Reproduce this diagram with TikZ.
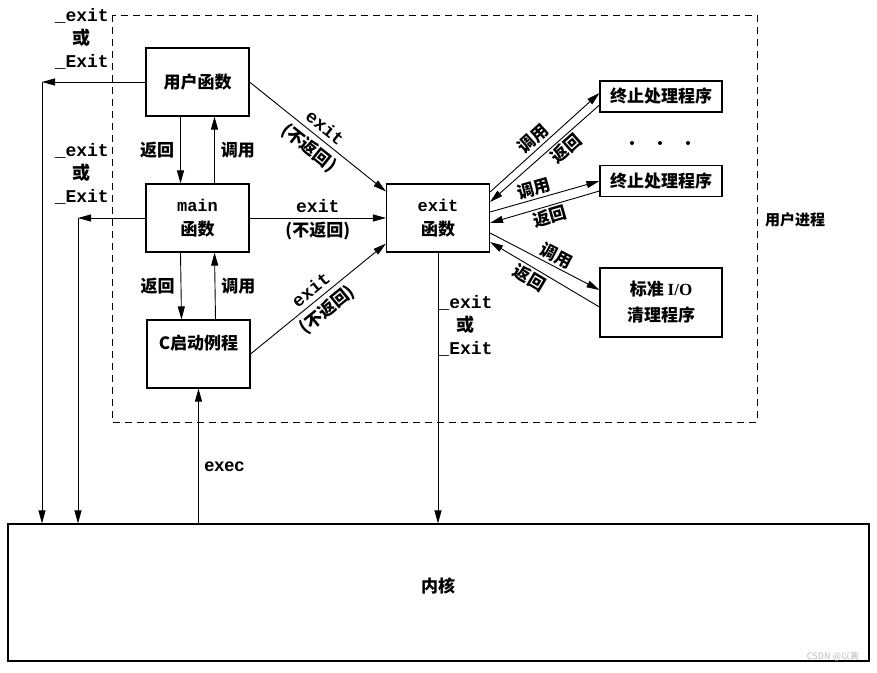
\documentclass[tikz,border=0pt]{standalone}
\usepackage{fontspec}
\usepackage{tikz}
\usetikzlibrary{arrows.meta}
\setmainfont{Noto Sans CJK SC}
\newfontfamily\monofont{Liberation Mono}
\newfontfamily\sansfont{Liberation Sans}
\newfontfamily\seriffont{Liberation Serif}
\tikzset{
  box/.style={draw, line width=1.1pt, minimum width=103pt, minimum height=68pt, align=center, inner sep=0pt, font=\fontsize{17}{24}\selectfont\bfseries},
  hbox/.style={box, minimum width=122pt, minimum height=31pt},
  lab/.style={font=\fontsize{17}{22}\selectfont\bfseries, inner sep=2pt},
  mlab/.style={font=\fontsize{18}{23}\selectfont\monofont\bfseries, align=center, inner sep=2pt},
  arr/.style={-{Triangle[length=13pt,width=7pt]}, line width=0.9pt},
  rarr/.style={{Triangle[length=13pt,width=7pt]}-, line width=0.9pt}
}
\newcommand{\mono}[1]{{\monofont #1}}

\begin{document}
\begin{tikzpicture}[x=1pt,y=-1pt]
\useasboundingbox (0,0) rectangle (877,672);
%\draw[-,color=black,dashed] (0,0) grid (877,672);
\draw[dash pattern=on 7pt off 5pt, line width=0.9pt] (112,15) rectangle (757,422);
\node[lab, font=\fontsize{15}{18}\selectfont\bfseries] (proc) at (795,220) {用户进程};
\node[box] (user) at (197.5,82) {用户函数};
\node[box] (main) at (197.5,218) {\mono{main}\\函数};
\node[box] (crt) at (198.5,354) {C启动例程\\\mbox{}};
\node[box] (exitf) at (438,218) {\mono{exit}\\函数};
\node[hbox] (term1) at (661,96.5) {终止处理程序};
\node[hbox] (term2) at (661,181) {终止处理程序};
\node[box, minimum width=122pt, minimum height=69pt, font=\fontsize{17}{26}\selectfont\bfseries] (stdio) at (661,302.5) {标准 {\seriffont I/O}\\清理程序};
\foreach \x in {632,660,688} \fill (\x,143) circle[radius=2pt];
\node[draw, line width=1.1pt, minimum width=861pt, minimum height=137pt] (kernel) at (438.5,592.5) {};
\node[lab] (kerneltxt) at (438,586) {内核};
%\node[lab] at (kernel.center) {内核};
\node[text=gray!55, font=\fontsize{9}{10}\selectfont] (mark) at (833,656) {CSDN @以离};
% _exit / _Exit to the kernel
\coordinate (turn1) at (42,82);
\coordinate (turn2) at (78,218);
\draw[arr] (user.west) -- (turn1);
\draw[arr] (turn1) -- (turn1 |- kernel.north);
\draw[arr] (main.west) -- (turn2);
\draw[arr] (turn2) -- (turn2 |- kernel.north);
\node[mlab, anchor=east] (ex1) at (111,39) {\_exit\\{\rmfamily 或}\\\_Exit};
\node[mlab, anchor=east] (ex2) at (111,174) {\_exit\\{\rmfamily 或}\\\_Exit};
\draw[arr] (exitf.south) -- (exitf.south |- kernel.north) node[pos=0.27, anchor=west, mlab, inner sep=0pt] (ex3) {\_exit\\{\rmfamily 或}\\\_Exit};
\draw[arr] (crt.south |- kernel.north) -- (crt.south) node[pos=0.42, right=2pt, font=\fontsize{18}{20}\selectfont\sansfont\bfseries] (exec) {exec};
% call / return between the boxes on the left
\draw[arr] ([xshift=-17pt]user.south) -- ([xshift=-17pt]main.north) node[midway, left=4pt, lab] {返回};
\draw[arr] ([xshift=17pt]main.north) -- ([xshift=17pt]user.south) node[midway, right=4pt, lab] {调用};
\draw[arr] ([xshift=-17pt]main.south) -- ([xshift=-17pt]crt.north) node[midway, left=4pt, lab] {返回};
\draw[arr] ([xshift=17pt]crt.north) -- ([xshift=17pt]main.south) node[midway, right=4pt, lab] {调用};
% exit (no return)
\draw[arr] (user.east) -- ([yshift=-8pt]exitf.north west) node[midway, above=3pt, sloped, mlab] {exit} node[midway, below=3pt, sloped, lab] {(不返回)};
\draw[arr] (main.east) -- (exitf.west) node[midway, above=3pt, mlab] {exit} node[midway, below=2pt, lab] {(不返回)};
\draw[arr] (crt.east) -- ([yshift=9pt]exitf.south west) node[midway, above=3pt, sloped, mlab] {exit} node[midway, below=3pt, sloped, lab] {(不返回)};
% exit handlers
\draw[arr] ([yshift=26pt]exitf.east) -- ([yshift=3.5pt]term1.west) node[pos=0.46, above, sloped, lab] {调用};
\draw[rarr] ([yshift=16pt]exitf.east) -- ([yshift=-8.5pt]term1.west) node[pos=0.63, below, sloped, lab] {返回};
\draw[arr] ([yshift=6pt]exitf.east) -- (term2.west) node[pos=0.43, above, sloped, lab] {调用};
\draw[rarr] ([yshift=-5pt]exitf.east) -- ([yshift=-10pt]term2.west) node[pos=0.52, below, sloped, lab] {返回};
\draw[arr] ([yshift=-15pt]exitf.east) -- ([yshift=12.5pt]stdio.west) node[pos=0.56, above, sloped, lab] {调用};
\draw[rarr] ([yshift=-24pt]exitf.east) -- ([yshift=-4.5pt]stdio.west) node[pos=0.41, below, sloped, lab] {返回};
\end{tikzpicture}
\end{document}
